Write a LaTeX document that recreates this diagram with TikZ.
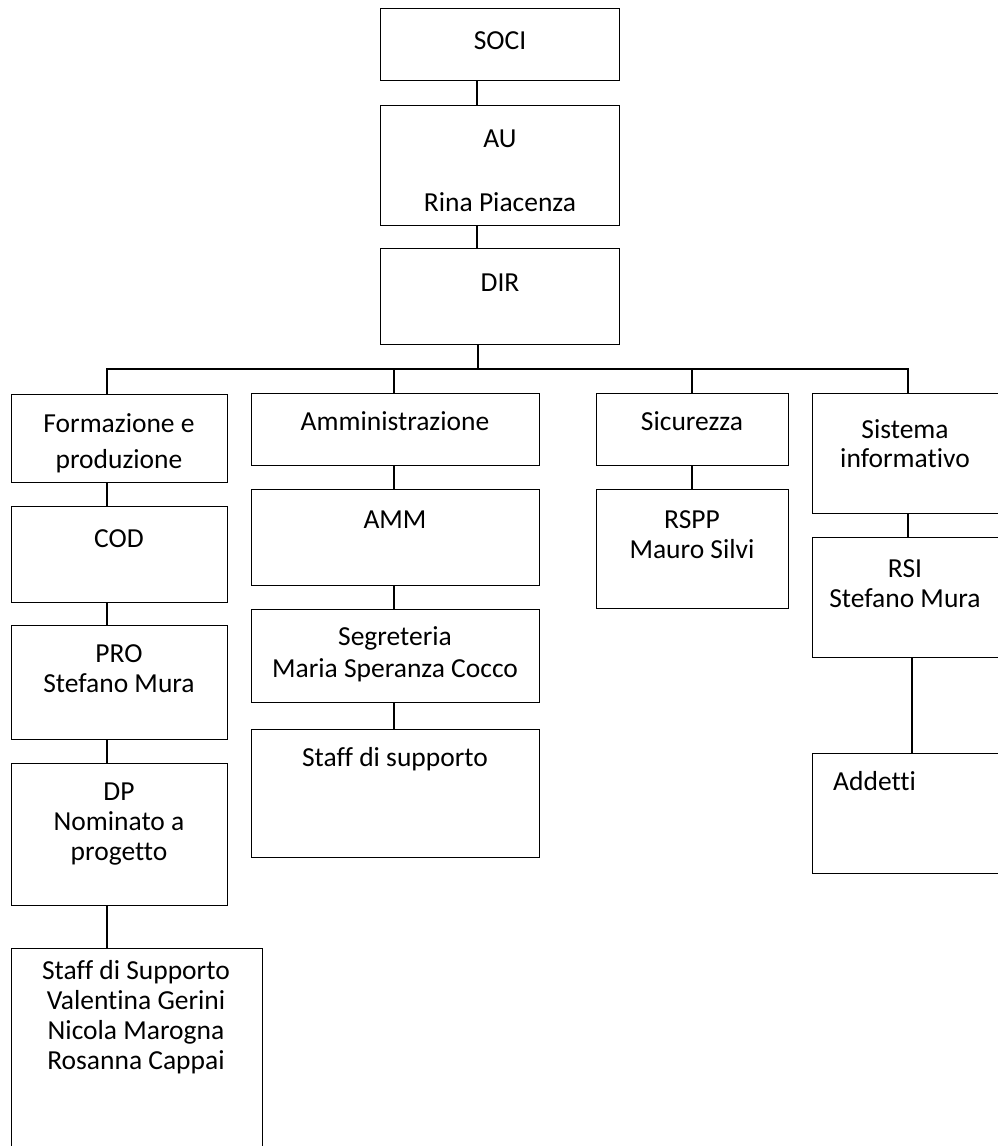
\documentclass[tikz,border=0pt]{standalone}
\usepackage{fontspec}
\setmainfont{Carlito}[Ligatures=NoCommon]
\begin{document}
\begin{tikzpicture}[x=1pt,y=-1pt,
  box/.style={draw=black,line width=1.3pt,rectangle,inner sep=0pt,anchor=north west},
  conn/.style={draw=black,line width=1.3pt},
  txt/.style={anchor=base,inner sep=0pt,font=\fontsize{27.5}{30}\selectfont},
  txtl/.style={anchor=base west,inner sep=0pt,font=\fontsize{27.5}{30}\selectfont}]
\useasboundingbox (0,0) rectangle (998,1146);
\clip (0,0) rectangle (998,1146);
% top column
\node[box,minimum width=239pt,minimum height=72pt] (soci) at (380,8) {};
\node[box,minimum width=239pt,minimum height=120pt] (au) at (380,105) {};
\node[box,minimum width=239pt,minimum height=96pt] (dir) at (380,248) {};
\node[txt] (tsoci) at (500,49) {SOCI};
\node[txt] (tau1) at (500,147) {AU};
\node[txt] (tau2) at (500,211) {Rina Piacenza};
\node[txt] (tdir) at (500,291) {DIR};
% column 1
\node[box,minimum width=216pt,minimum height=88pt] (form) at (11,394) {};
\node[box,minimum width=216pt,minimum height=96pt] (cod) at (11,506) {};
\node[box,minimum width=216pt,minimum height=114pt] (pro) at (11,625) {};
\node[box,minimum width=216pt,minimum height=142pt] (dp) at (11,763) {};
\node[box,minimum width=251pt,minimum height=220pt] (staff1) at (11,948) {};
\node[txt] (tform1) at (119,432) {Formazione e};
\node[txt] (tform2) at (119,468) {produzione};
\node[txt] (tcod) at (119,547) {COD};
\node[txt] (tpro1) at (119,662) {PRO};
\node[txt] (tpro2) at (119,692) {Stefano Mura};
\node[txt] (tdp1) at (119,800) {DP};
\node[txt] (tdp2) at (119,830) {Nominato a};
\node[txt] (tdp3) at (119,860) {progetto};
\node[txt] (ts1) at (136,979) {Staff di Supporto};
\node[txt] (ts2) at (136,1009) {Valentina Gerini};
\node[txt] (ts3) at (136,1039) {Nicola Marogna};
\node[txt] (ts4) at (136,1069) {Rosanna Cappai};
% column 2
\node[box,minimum width=288pt,minimum height=72pt] (amm0) at (251,393) {};
\node[box,minimum width=288pt,minimum height=96pt] (amm) at (251,489) {};
\node[box,minimum width=288pt,minimum height=93pt] (seg) at (251,609) {};
\node[box,minimum width=288pt,minimum height=128pt] (staff2) at (251,729) {};
\node[txt] (tamm0) at (395,430) {Amministrazione};
\node[txt] (tamm) at (395,528) {AMM};
\node[txt] (tseg1) at (395,645) {Segreteria};
\node[txt] (tseg2) at (395,677) {Maria Speranza Cocco};
\node[txt] (tst2) at (395,766) {Staff di supporto};
% column 3
\node[box,minimum width=192pt,minimum height=72pt] (sic) at (596,393) {};
\node[box,minimum width=192pt,minimum height=119pt] (rspp) at (596,489) {};
\node[txt] (tsic) at (692,430) {Sicurezza};
\node[txt] (trspp1) at (692,528) {RSPP};
\node[txt] (trspp2) at (692,558) {Mauro Silvi};
% column 4
\node[box,minimum width=192pt,minimum height=120pt] (sis) at (812,393) {};
\node[box,minimum width=192pt,minimum height=120pt] (rsi) at (812,537) {};
\node[box,minimum width=192pt,minimum height=120pt] (add) at (812,753) {};
\node[txt] (tsis1) at (905,438) {Sistema};
\node[txt] (tsis2) at (905,467) {informativo};
\node[txt] (trsi1) at (905,577) {RSI};
\node[txt] (trsi2) at (905,607) {Stefano Mura};
\node[txtl] (tadd) at (833,790) {Addetti};
% connector positions
\coordinate (xa) at (477,0);
\coordinate (xb) at (478,0);
\coordinate (bus) at (0,369);
\coordinate (x1) at (107,0);
\coordinate (x2) at (394,0);
\coordinate (x3) at (692,0);
\coordinate (x4) at (908,0);
\coordinate (x4b) at (912,0);
% connectors
\draw[conn] (soci.south -| xa) -- (au.north -| xa);
\draw[conn] (au.south -| xa) -- (dir.north -| xa);
\draw[conn] (dir.south -| xb) -- (bus -| xb);
\draw[conn] (x1 |- form.north) -- (bus -| x1) -- (bus -| x4) -- (x4 |- sis.north);
\draw[conn] (bus -| x2) -- (x2 |- amm0.north);
\draw[conn] (bus -| x3) -- (x3 |- sic.north);
\draw[conn] (form.south -| x1) -- (cod.north -| x1);
\draw[conn] (cod.south -| x1) -- (pro.north -| x1);
\draw[conn] (pro.south -| x1) -- (dp.north -| x1);
\draw[conn] (dp.south -| x1) -- (staff1.north -| x1);
\draw[conn] (amm0.south -| x2) -- (amm.north -| x2);
\draw[conn] (amm.south -| x2) -- (seg.north -| x2);
\draw[conn] (seg.south -| x2) -- (staff2.north -| x2);
\draw[conn] (sic.south -| x3) -- (rspp.north -| x3);
\draw[conn] (sis.south -| x4) -- (rsi.north -| x4);
\draw[conn] (rsi.south -| x4b) -- (add.north -| x4b);
\end{tikzpicture}
\end{document}
